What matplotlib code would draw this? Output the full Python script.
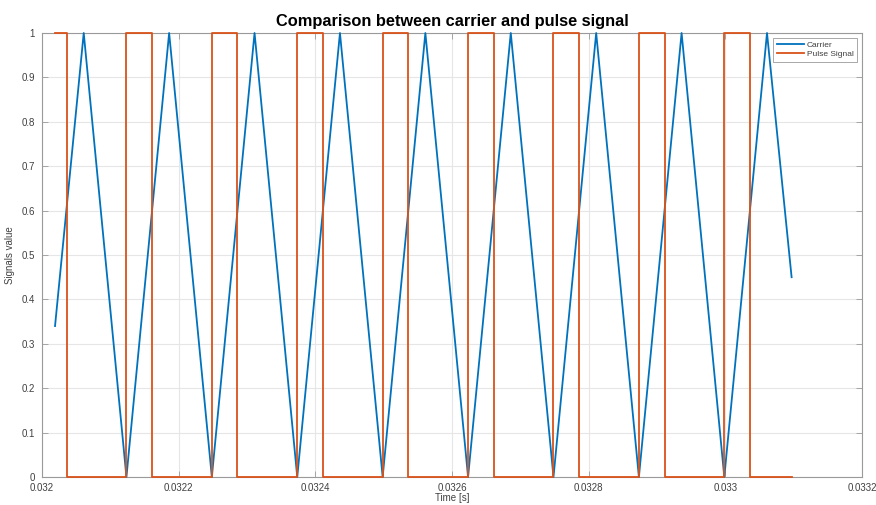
import matplotlib
matplotlib.use("Agg")
import matplotlib.pyplot as plt

plt.rcParams['font.family'] = ['Liberation Sans', 'DejaVu Sans']

# Carrier vertices (start, alternating peaks/valleys, end)
carrier_t = [0.032019, 0.032061, 0.0321235, 0.032186, 0.0322485, 0.032311,
             0.0323735, 0.032436, 0.0324985, 0.032561, 0.0326235, 0.032686,
             0.0327485, 0.032811, 0.0328735, 0.032936, 0.0329985, 0.033061,
             0.033097]
carrier_v = [0.34, 1.0, 0.0, 1.0, 0.0, 1.0, 0.0, 1.0, 0.0, 1.0, 0.0, 1.0,
             0.0, 1.0, 0.0, 1.0, 0.0, 1.0, 0.45]

# Pulse signal edges
pulse_start = 0.032019
pulse_end = 0.033097
pulse_rise = [0.0321235, 0.0322485, 0.0323735, 0.0324985, 0.0326235,
              0.0327485, 0.0328735, 0.0329985]
pulse_fall = [0.032036, 0.032161, 0.032286, 0.032411, 0.032536,
              0.032661, 0.032786, 0.032911, 0.033036]

# build step polyline from edges
pt = [pulse_start]
pv = [1.0]
events = sorted([(t, 0.0) for t in pulse_fall] + [(t, 1.0) for t in pulse_rise])
cur = 1.0
for t, nv in events:
    pt += [t, t]
    pv += [cur, nv]
    cur = nv
pt.append(pulse_end)
pv.append(cur)

xticks = [0.032, 0.0322, 0.0324, 0.0326, 0.0328, 0.033, 0.0332]
xtick_labels = ["0.032", "0.0322", "0.0324", "0.0326", "0.0328", "0.033", "0.0332"]
yticks = [0, 0.1, 0.2, 0.3, 0.4, 0.5, 0.6, 0.7, 0.8, 0.9, 1]
ytick_labels = ["0", "0.1", "0.2", "0.3", "0.4", "0.5", "0.6", "0.7", "0.8", "0.9", "1"]

fig = plt.figure(figsize=(8.76, 5.05), dpi=100)
ax = fig.add_axes([0.048, 0.0554, 0.936, 0.8793])

ax.plot(carrier_t, carrier_v, color="#0072BD", lw=1.3, label="Carrier",
        zorder=3, clip_on=False)
ax.plot(pt, pv, color="#D95319", lw=1.3, label="Pulse Signal", zorder=3,
        clip_on=False)

ax.set_xlim(0.032, 0.0332)
ax.set_ylim(0, 1)
ax.set_xticks(xticks)
ax.set_xticklabels(xtick_labels)
ax.set_yticks(yticks)
ax.set_yticklabels(ytick_labels)

ax.grid(True, color="#e6e6e6", lw=0.8)
ax.set_axisbelow(True)
ax.tick_params(direction="in", length=4, width=0.6, colors="#9a9a9a",
               labelcolor="#404040", labelsize=7, top=True, right=True)
ax.tick_params(axis="x", pad=4)
ax.tick_params(axis="y", pad=5)
for s in ax.spines.values():
    s.set_color("#9a9a9a")
    s.set_linewidth(0.8)

ax.set_xlabel("Time [s]", fontsize=7, color="#404040", labelpad=0.5)
ax.set_ylabel("Signals value", fontsize=7, color="#404040", labelpad=5)
ax.set_title("Comparison between carrier and pulse signal", fontsize=11.8,
             fontweight="bold", pad=5)

leg = ax.legend(loc="upper right", fontsize=6, fancybox=False, framealpha=1,
                edgecolor="#9a9a9a", borderpad=0.4, handlelength=3.3,
                handletextpad=0.3, labelspacing=0.2,
                bbox_to_anchor=(0.999, 0.999))
leg.get_frame().set_linewidth(0.6)
for t in leg.get_texts():
    t.set_color("#404040")

fig.savefig("out.png", dpi=100)
